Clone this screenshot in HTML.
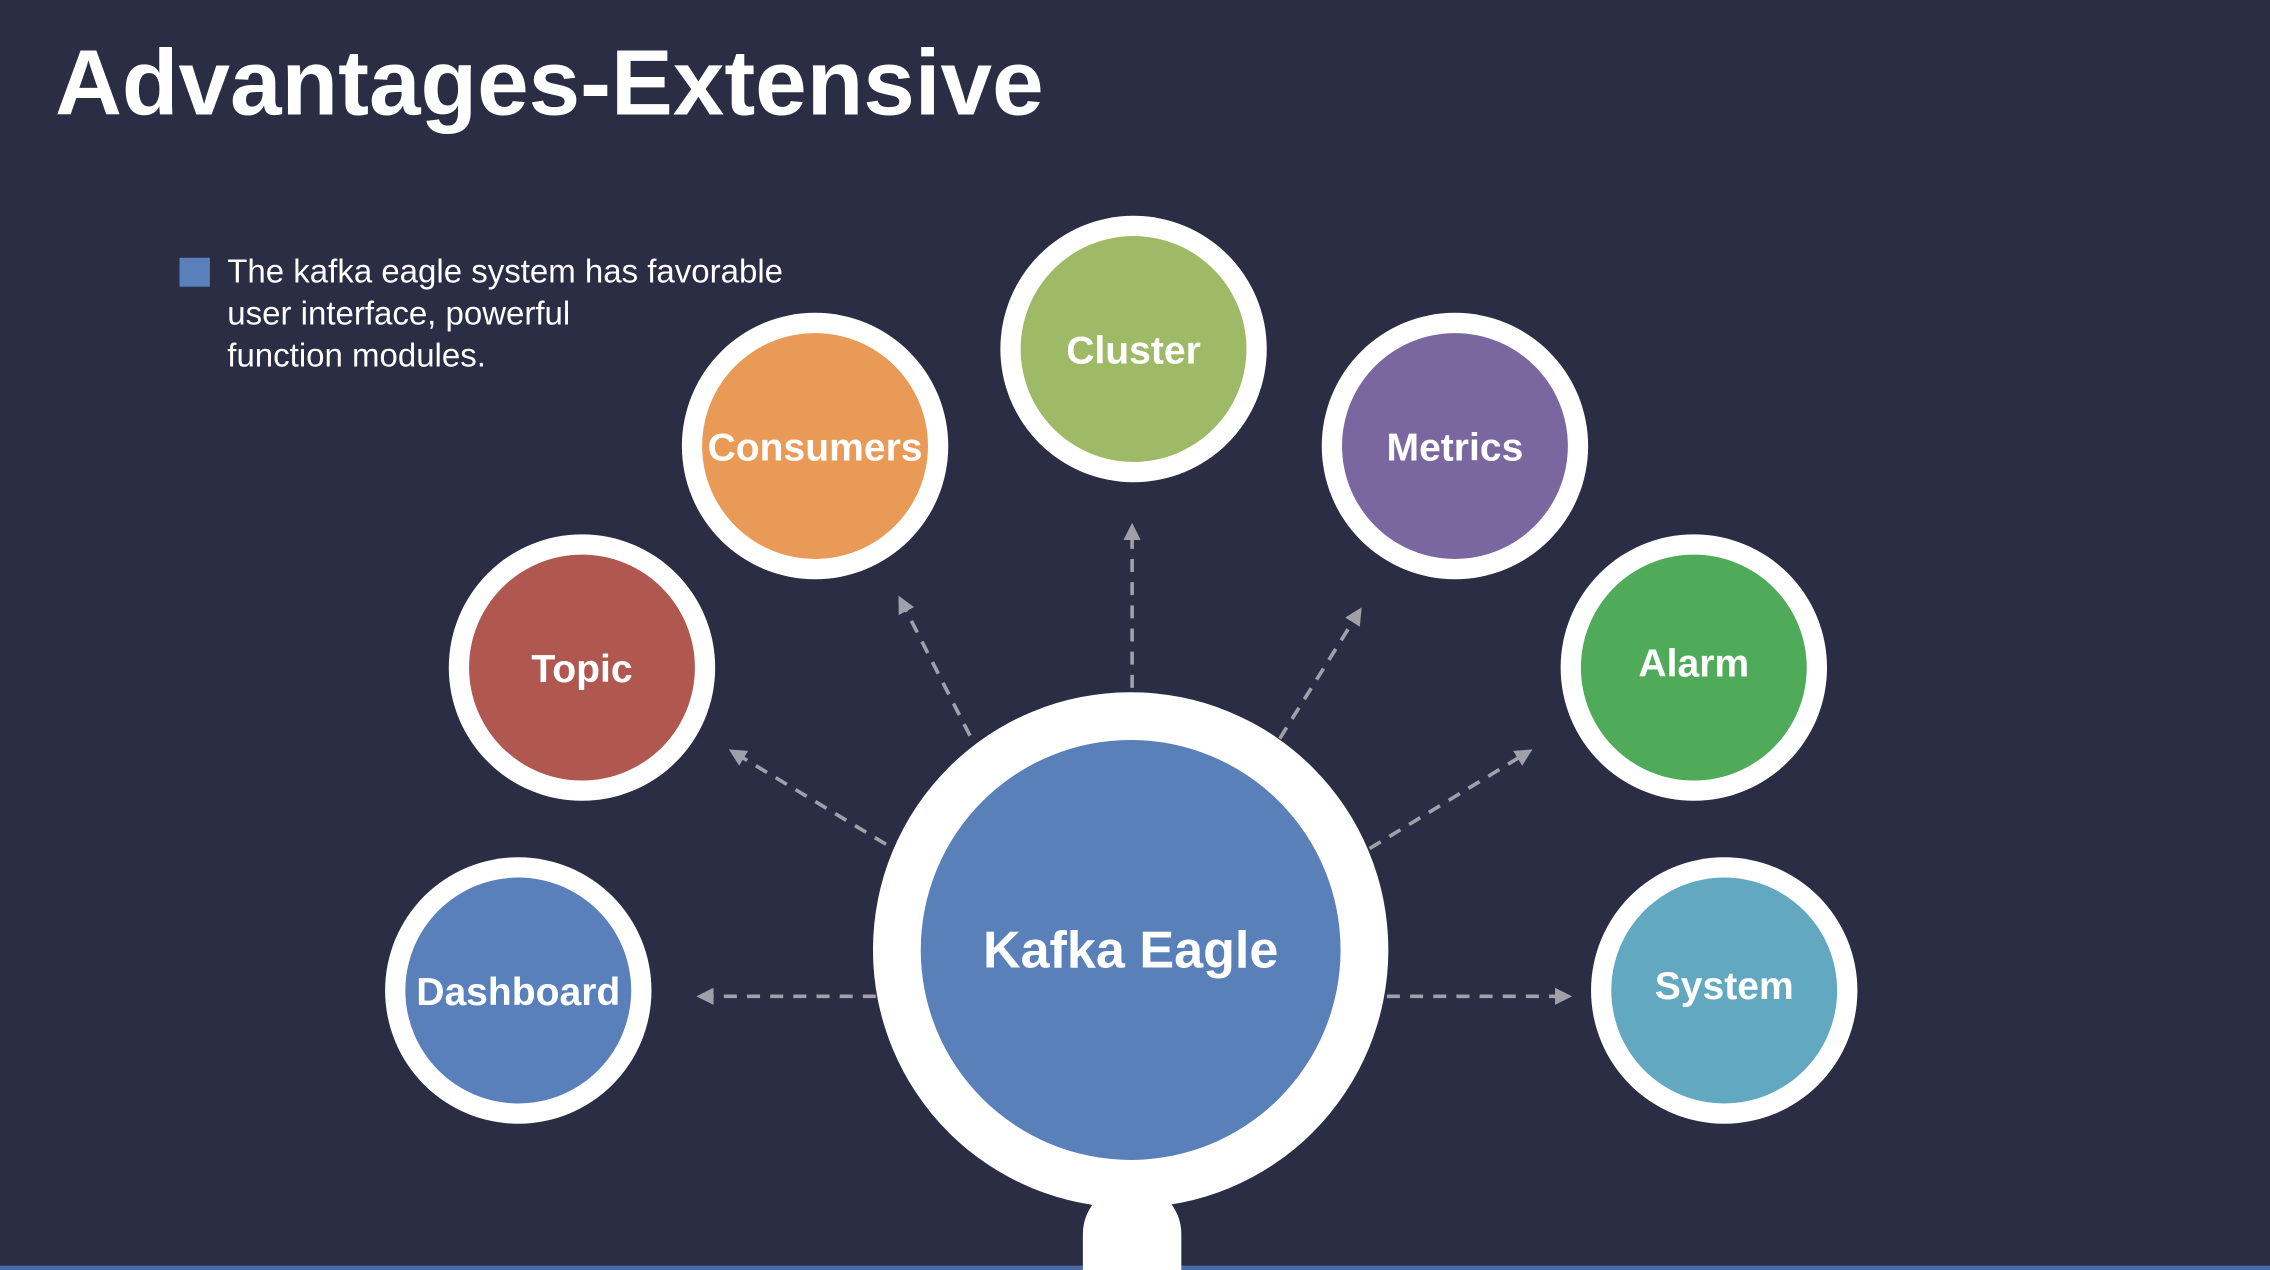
<!DOCTYPE html>
<html><head><meta charset="utf-8"><style>
html,body{margin:0;padding:0;background:#2b2d44;}
svg{display:block}
text{font-family:"Liberation Sans",sans-serif;}
</style></head><body>
<svg width="2270" height="1270" viewBox="0 0 1568 877" preserveAspectRatio="none" xmlns="http://www.w3.org/2000/svg">
<defs>
<marker id="ah" markerWidth="12" markerHeight="12" refX="9" refY="6" orient="auto" markerUnits="userSpaceOnUse">
<path d="M0,0 L12,6 L0,12 z" fill="#a0a0a8"/></marker>
</defs>
<rect width="1568" height="877" fill="#2b2d44"/>
<rect x="0" y="874" width="1568" height="3" fill="#4a6aa8"/>
<text x="38" y="79" font-size="64" font-weight="bold" fill="#fff">Advantages-Extensive</text>
<rect x="124" y="178" width="21" height="20" fill="#5a80bb"/>
<g font-size="22.8" fill="#fff">
<text x="157" y="195">The kafka eagle system has favorable</text>
<text x="157" y="224">user interface, powerful</text>
<text x="157" y="253">function modules.</text>
</g>
<g stroke="#a0a0a8" stroke-width="2.5" stroke-dasharray="9,7" fill="none" marker-end="url(#ah)">
<line x1="782" y1="475" x2="782" y2="364"/>
<line x1="670" y1="508" x2="622" y2="414"/>
<line x1="884" y1="510" x2="939" y2="422"/>
<line x1="612" y1="583" x2="506" y2="519"/>
<line x1="946" y1="586" x2="1056" y2="519"/>
<line x1="605" y1="688" x2="484" y2="688"/>
<line x1="958" y1="688" x2="1083" y2="688"/>
</g>
<path d="M748,877 V852 A34,34 0 0 1 816,852 V877 z" fill="#fff"/>
<circle cx="781" cy="656" r="178" fill="#fff"/>
<circle cx="781" cy="656" r="145" fill="#5a80b9"/>
<text x="781" y="668" font-size="36" font-weight="bold" fill="#fff" text-anchor="middle">Kafka Eagle</text>
<g font-size="27" font-weight="bold" fill="#fff" text-anchor="middle">
<circle cx="783" cy="241" r="92" fill="#fff"/><circle cx="783" cy="241" r="78" fill="#9fba66"/><text x="783" y="251">Cluster</text>
<circle cx="563" cy="308" r="92" fill="#fff"/><circle cx="563" cy="308" r="78" fill="#e99a56"/><text x="563" y="318">Consumers</text>
<circle cx="1005" cy="308" r="92" fill="#fff"/><circle cx="1005" cy="308" r="78" fill="#7b67a0"/><text x="1005" y="318">Metrics</text>
<circle cx="402" cy="461" r="92" fill="#fff"/><circle cx="402" cy="461" r="78" fill="#b05750"/><text x="402" y="471">Topic</text>
<circle cx="1170" cy="461" r="92" fill="#fff"/><circle cx="1170" cy="461" r="78" fill="#4fab5a"/><text x="1170" y="467">Alarm</text>
<circle cx="358" cy="684" r="92" fill="#fff"/><circle cx="358" cy="684" r="78" fill="#5a80bb"/><text x="358" y="694">Dashboard</text>
<circle cx="1191" cy="684" r="92" fill="#fff"/><circle cx="1191" cy="684" r="78" fill="#63a8c1"/><text x="1191" y="690">System</text>
</g>
</svg>
</body></html>
